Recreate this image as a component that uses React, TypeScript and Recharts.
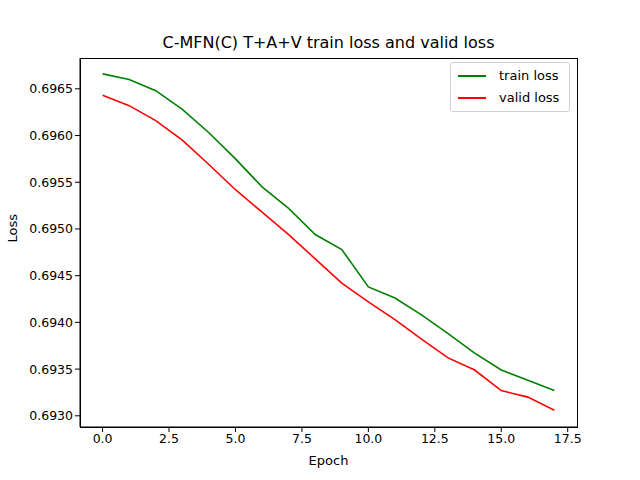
import { LineChart, Line, XAxis, YAxis } from 'recharts'

const epochs = [0, 1, 2, 3, 4, 5, 6, 7, 8, 9, 10, 11, 12, 13, 14, 15, 16, 17]
const trainLoss = [
  0.69666, 0.6966, 0.69648, 0.69628, 0.69603, 0.69575, 0.69545, 0.69522, 0.69494,
  0.69478, 0.69438, 0.69426, 0.69408, 0.69388, 0.69367, 0.69349, 0.69338, 0.69327,
]
const validLoss = [
  0.69643, 0.69632, 0.69616, 0.69595, 0.69569, 0.69542, 0.69518, 0.69494, 0.69468,
  0.69442, 0.69422, 0.69403, 0.69382, 0.69362, 0.69349, 0.69327, 0.6932, 0.69306,
]
const xTicks = [0, 2.5, 5, 7.5, 10, 12.5, 15, 17.5]
const yTicks = [0.693, 0.6935, 0.694, 0.6945, 0.695, 0.6955, 0.696, 0.6965]

const data = epochs.map((e, i) => ({ epoch: e, train: trainLoss[i], valid: validLoss[i] }))

const font = 'DejaVu Sans'

export default function App() {
  return (
    <div style={{ position: 'absolute', left: 0, top: 0, width: 640, height: 480, background: '#fff', fontFamily: font }}>
      <div style={{ position: 'absolute', top: 33, left: 80, width: 497, textAlign: 'center', fontSize: 16 }}>
        C-MFN(C) T+A+V train loss and valid loss
      </div>
      <LineChart width={640} height={480} data={data} margin={{ top: 58, right: 63, bottom: 0, left: 0 }}>
        <XAxis
          dataKey="epoch"
          type="number"
          domain={[-0.85, 17.85]}
          ticks={xTicks}
          allowDataOverflow
          tickFormatter={(v: number) => v.toFixed(1)}
          tick={{ fill: '#000', fontSize: 12.5, fontFamily: font }}
          tickLine={{ stroke: '#000' }}
          axisLine={{ stroke: '#000' }}
          tickSize={5}
          height={53}
          label={{ value: 'Epoch', position: 'insideBottom', offset: 15, fill: '#000', fontSize: 13, fontFamily: font }}
        />
        <YAxis
          type="number"
          domain={[0.69288, 0.69683]}
          ticks={yTicks}
          allowDataOverflow
          tickFormatter={(v: number) => v.toFixed(4)}
          tick={{ fill: '#000', fontSize: 12.5, fontFamily: font }}
          tickLine={{ stroke: '#000' }}
          axisLine={{ stroke: '#000' }}
          tickSize={5}
          width={80}
          label={{ value: 'Loss', angle: -90, position: 'insideLeft', offset: 12, fill: '#000', fontSize: 13, fontFamily: font }}
        />
        <Line dataKey="train" stroke="#008000" strokeWidth={1.6} dot={false} isAnimationActive={false} />
        <Line dataKey="valid" stroke="#ff0000" strokeWidth={1.6} dot={false} isAnimationActive={false} />
      </LineChart>
      <div style={{ position: 'absolute', left: 80, top: 58, width: 496, height: 368, border: '1px solid #000', pointerEvents: 'none' }} />
      <div style={{ position: 'absolute', left: 450, top: 62, width: 118, height: 48, border: '1px solid #d0d0d0', borderRadius: 3, background: 'rgba(255,255,255,0.8)', fontSize: 13 }}>
        <div style={{ position: 'absolute', left: 7, top: 5, display: 'flex', alignItems: 'center' }}>
          <span style={{ width: 28, height: 2, background: '#008000', marginRight: 13 }} />train loss
        </div>
        <div style={{ position: 'absolute', left: 7, top: 27, display: 'flex', alignItems: 'center' }}>
          <span style={{ width: 28, height: 2, background: '#ff0000', marginRight: 13 }} />valid loss
        </div>
      </div>
    </div>
  )
}
